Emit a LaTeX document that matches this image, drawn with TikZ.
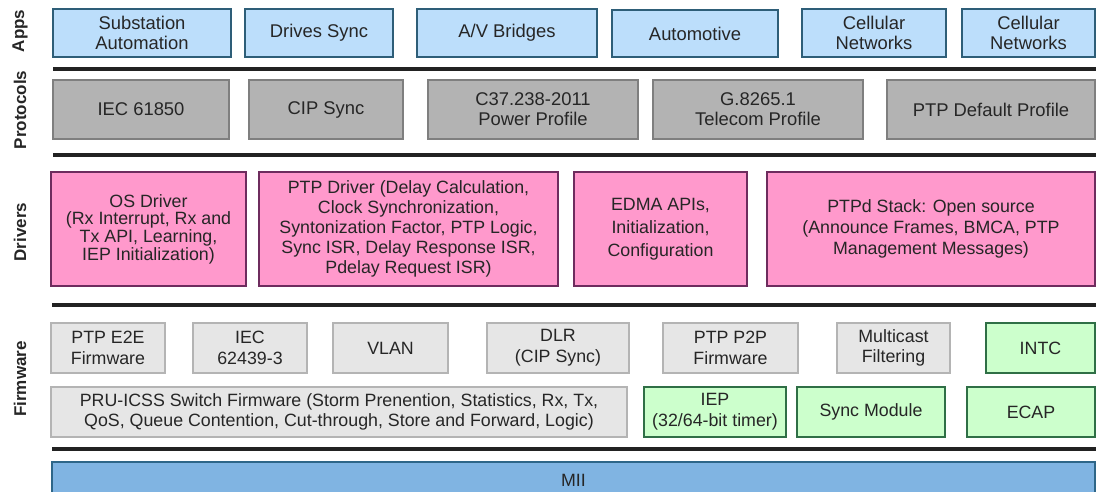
\documentclass[tikz,border=0pt]{standalone}
\usepackage{fontspec}
\setmainfont{Liberation Sans}
\definecolor{appf}{HTML}{BCDEFB}
\definecolor{appb}{HTML}{2E5E78}
\definecolor{protf}{HTML}{B3B3B3}
\definecolor{protb}{HTML}{7F7F7F}
\definecolor{drvf}{HTML}{FF99CC}
\definecolor{drvb}{HTML}{6E2C5E}
\definecolor{fwf}{HTML}{E6E6E6}
\definecolor{fwb}{HTML}{B4B4B4}
\definecolor{grf}{HTML}{CCFFCC}
\definecolor{grb}{HTML}{2F6F46}
\definecolor{miif}{HTML}{80B4E2}
\definecolor{miib}{HTML}{2E6688}
\definecolor{txt}{HTML}{262626}
\definecolor{sep}{HTML}{222222}
\newcommand{\boxat}[7]{\node[#2, minimum width={(#5-#3)*1pt}, minimum height={(#6-#4)*1pt}] (#1) at ({(#3+#5)/2},{(#4+#6)/2}) {#7};}
\begin{document}
\begin{tikzpicture}[x=1pt,y=-1pt,
  base/.style={rectangle, line width=2pt, align=center, inner sep=0pt, text=txt, font=\fontsize{18.4}{20.7}\selectfont},
  app/.style={base, draw=appb, fill=appf},
  prot/.style={base, draw=protb, fill=protf, font=\fontsize{18.4}{20.2}\selectfont},
  drv/.style={base, draw=drvb, fill=drvf, font=\fontsize{17.8}{20}\selectfont},
  fw/.style={base, draw=fwb, fill=fwf, font=\fontsize{17.8}{20.7}\selectfont},
  gr/.style={base, draw=grb, fill=grf, font=\fontsize{17.8}{20.7}\selectfont},
  mii/.style={base, draw=miib, fill=miif, font=\fontsize{17.8}{20}\selectfont},
  sepline/.style={line width=3.5pt, draw=sep},
  lbl/.style={rotate=90, font=\fontsize{17}{20}\selectfont\bfseries, text=txt, inner sep=0pt}]
\useasboundingbox (0,0) rectangle (1096,491);
% labels
\node[lbl] (lapps) at (20,31) {Apps};
\node[lbl] (lprot) at (20,110) {Protocols};
\node[lbl] (ldrv) at (20,232) {Drivers};
\node[lbl] (lfw) at (20,379) {Firmware};
% apps
\boxat{a1}{app}{53}{9}{231}{57}{Substation\\Automation}
\boxat{a2}{app}{245}{9}{393}{57}{Drives Sync}
\boxat{a3}{app}{417}{9}{597}{57}{A/V Bridges}
\boxat{a4}{app}{612}{10}{778}{57}{Automotive}
\boxat{a5}{app}{802}{9}{946}{57}{Cellular\\Networks}
\boxat{a6}{app}{962}{9}{1095}{57}{Cellular\\Networks}
% separators
\coordinate (s1a) at (53,69); \coordinate (s1b) at (1096,69);
\coordinate (s2a) at (53,155); \coordinate (s2b) at (1096,155);
\coordinate (s3a) at (52,305); \coordinate (s3b) at (1096,305);
\coordinate (s4a) at (52,449); \coordinate (s4b) at (1096,449);
\draw[sepline] (s1a) -- (s1b);
\draw[sepline] (s2a) -- (s2b);
\draw[sepline] (s3a) -- (s3b);
\draw[sepline] (s4a) -- (s4b);
% protocols
\boxat{p1}{prot}{53}{80}{229}{139}{IEC 61850}
\boxat{p2}{prot}{249}{80}{403}{139}{CIP Sync}
\boxat{p3}{prot}{428}{80}{638}{139}{C37.238-2011\\Power Profile}
\boxat{p4}{prot}{653}{80}{863}{139}{G.8265.1\\Telecom Profile}
\boxat{p5}{prot}{887}{80}{1095}{139}{PTP Default Profile}
% drivers
\boxat{d1}{drv, font=\fontsize{17.8}{17.6}\selectfont}{51}{172}{246}{286}{OS Driver\\(Rx Interrupt, Rx and\\Tx API, Learning,\\IEP Initialization)}
\boxat{d2}{drv}{259}{172}{558}{286}{PTP Driver (Delay Calculation,\\Clock Synchronization,\\Syntonization Factor, PTP Logic,\\Sync ISR, Delay Response ISR,\\Pdelay Request ISR)}
\boxat{d3}{drv, font=\fontsize{17.8}{23}\selectfont}{574}{172}{747}{286}{EDMA APIs,\\Initialization,\\Configuration}
\boxat{d4}{drv, font=\fontsize{17.8}{20.7}\selectfont}{767}{172}{1095}{286}{PTPd Stack: Open source\\(Announce Frames, BMCA, PTP\\Management Messages)}
% firmware row 1
\boxat{f1}{fw}{51}{323}{165}{373}{PTP E2E\\Firmware}
\boxat{f2}{fw}{193}{323}{307}{373}{IEC\\62439-3}
\boxat{f3}{fw}{333}{323}{448}{373}{VLAN}
\boxat{f4}{fw}{487}{323}{629}{373}{DLR\\(CIP Sync)}
\boxat{f5}{fw}{663}{323}{798}{373}{PTP P2P\\Firmware}
\boxat{f6}{fw}{837}{323}{950}{373}{Multicast\\Filtering}
\boxat{g1}{gr}{986}{323}{1095}{373}{INTC}
% firmware row 2
\boxat{f7}{fw, font=\fontsize{17.8}{20}\selectfont}{51}{387}{627}{437}{PRU-ICSS Switch Firmware (Storm Prenention, Statistics, Rx, Tx,\\QoS, Queue Contention, Cut-through, Store and Forward, Logic)}
\boxat{g2}{gr}{644}{387}{786}{437}{IEP\\(32/64-bit timer)}
\boxat{g3}{gr}{797}{387}{945}{437}{Sync Module}
\boxat{g4}{gr}{967}{387}{1095}{437}{ECAP}
% MII
\boxat{m1}{mii}{52}{462}{1095}{498}{MII}
\end{tikzpicture}
\end{document}
